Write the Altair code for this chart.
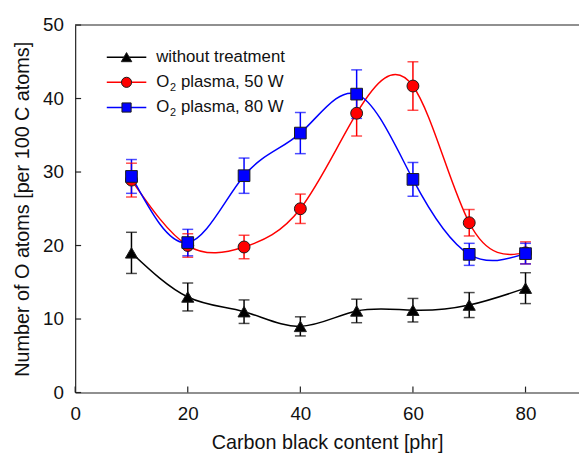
import altair as alt
import pandas as pd

# ---- data ----
carbon = [10, 20, 30, 40, 50, 60, 70, 80]
series_names = ["without treatment", "O₂ plasma, 50 W", "O₂ plasma, 80 W"]
untreated = [19.0, 13.0, 11.0, 9.0, 11.1, 11.2, 11.9, 14.2]
untreated_err = [2.8, 1.9, 1.6, 1.3, 1.6, 1.6, 1.7, 2.1]
plasma50 = [28.9, 20.0, 19.8, 25.0, 38.0, 41.7, 23.1, 19.0]
plasma50_err = [2.3, 1.6, 1.6, 2.0, 3.1, 3.3, 1.8, 1.5]
plasma80 = [29.4, 20.4, 29.5, 35.3, 40.6, 29.0, 18.8, 18.9]
plasma80_err = [2.3, 1.8, 2.4, 2.8, 3.3, 2.3, 1.5, 1.4]
x_ticks = [0, 20, 40, 60, 80]
y_ticks = [0, 10, 20, 30, 40, 50]
# legend text pieces (O + subscript 2 + rest)
legend_main = ["without treatment", "O", "O"]
legend_sub = ["", "2", "2"]
legend_rest = ["", "plasma, 50 W", "plasma, 80 W"]

colors = ["#000000", "#ff0000", "#0000ff"]
shapes = ["triangle-up", "circle", "square"]
sizes = [150, 140, 115]

W, H = 510, 372
FONT = "Liberation Sans"
AX = "#222222"
TXT = "#111111"

rows = []
for name, vals, errs in zip(series_names,
                            [untreated, plasma50, plasma80],
                            [untreated_err, plasma50_err, plasma80_err]):
    for c, v, e in zip(carbon, vals, errs):
        rows.append(dict(carbon=c, value=v, lo=v - e, hi=v + e, series=name))
df = pd.DataFrame(rows)

xs = alt.Scale(domain=[0, 89.5], nice=False, zero=False)
ys = alt.Scale(domain=[0, 50], nice=False)

x_axis = alt.Axis(values=x_ticks, title="Carbon black content [phr]", ticks=False, tickSize=0,
                  grid=False, domainColor=AX, domainWidth=1.2, labelFont=FONT, labelFontSize=19,
                  labelColor=TXT, labelPadding=12, labelFlush=False, titleFont=FONT,
                  titleFontSize=20, titleFontWeight="normal", titleColor=TXT, titlePadding=10)
y_axis = alt.Axis(values=y_ticks, title="Number of O atoms [per 100 C atoms]", ticks=False, tickSize=0,
                  grid=False, domainColor=AX, domainWidth=1.2, labelFont=FONT, labelFontSize=19,
                  labelColor=TXT, labelPadding=12, labelFlush=False, titleFont=FONT,
                  titleFontSize=20, titleFontWeight="normal", titleColor=TXT, titlePadding=10)

color = alt.Color("series:N", scale=alt.Scale(domain=series_names, range=colors), legend=None)

base = alt.Chart(df)
X = alt.X("carbon:Q", scale=xs, axis=x_axis)

lines = base.mark_line(interpolate="natural", strokeWidth=1.5).encode(
    x=X, y=alt.Y("value:Q", scale=ys, axis=y_axis), color=color, detail="series:N")

err = base.mark_rule(strokeWidth=1.5).encode(
    x=X, y=alt.Y("lo:Q", scale=ys, axis=y_axis), y2="hi:Q", color=color)
cap_lo = base.mark_tick(orient="horizontal", size=11, thickness=1.5).encode(
    x=X, y=alt.Y("lo:Q", scale=ys, axis=y_axis), color=color)
cap_hi = base.mark_tick(orient="horizontal", size=11, thickness=1.5).encode(
    x=X, y=alt.Y("hi:Q", scale=ys, axis=y_axis), color=color)

points = base.mark_point(filled=True, opacity=1, stroke="#1a1a1a", strokeWidth=1).encode(
    x=X, y=alt.Y("value:Q", scale=ys, axis=y_axis),
    fill=alt.Fill("series:N", scale=alt.Scale(domain=series_names, range=colors), legend=None),
    shape=alt.Shape("series:N", scale=alt.Scale(domain=series_names, range=shapes), legend=None),
    size=alt.Size("series:N", scale=alt.Scale(domain=series_names, range=sizes), legend=None),
)

# inward ticks
xt = alt.Chart(pd.DataFrame({"t": x_ticks})).mark_rule(color=AX, strokeWidth=1.2).encode(
    x=alt.X("t:Q", scale=xs, axis=x_axis), y=alt.value(H), y2=alt.value(H - 6))
yt = alt.Chart(pd.DataFrame({"t": y_ticks})).mark_rule(color=AX, strokeWidth=1.2).encode(
    y=alt.Y("t:Q", scale=ys, axis=y_axis), x=alt.value(0), x2=alt.value(6))
top = alt.Chart(pd.DataFrame({"a": [0]})).mark_rule(color=AX, strokeWidth=1.2).encode(
    x=alt.value(0), x2=alt.value(W), y=alt.value(0))

# legend (inside plot, top-left)
leg_layers = []
leg_y = [32.5, 58, 83.5]
for i, name in enumerate(series_names):
    d = pd.DataFrame({"main": [legend_main[i]], "sub": [legend_sub[i]], "rest": [legend_rest[i]]})
    c = alt.Chart(d)
    leg_layers.append(c.mark_rule(color=colors[i], strokeWidth=1.5).encode(
        x=alt.value(32), x2=alt.value(72), y=alt.value(leg_y[i])))
    leg_layers.append(c.mark_point(filled=True, opacity=1, fill=colors[i], stroke="#1a1a1a",
                                   strokeWidth=1, shape=shapes[i], size=sizes[i] * 0.75).encode(
        x=alt.value(52), y=alt.value(leg_y[i])))
    leg_layers.append(c.mark_text(align="left", baseline="middle", font=FONT, fontSize=17,
                                  color=TXT).encode(
        x=alt.value(82), y=alt.value(leg_y[i]), text="main:N"))
    if legend_sub[i]:
        leg_layers.append(c.mark_text(align="left", baseline="middle", font=FONT, fontSize=11,
                                      color=TXT).encode(
            x=alt.value(96), y=alt.value(leg_y[i] + 6), text="sub:N"))
        leg_layers.append(c.mark_text(align="left", baseline="middle", font=FONT, fontSize=17,
                                      color=TXT).encode(
            x=alt.value(107), y=alt.value(leg_y[i]), text="rest:N"))

chart = alt.layer(lines, err, cap_lo, cap_hi, points, xt, yt, top, *leg_layers).properties(
    width=W, height=H, autosize="none",
    padding={"left": 68, "top": 14.5, "right": 0, "bottom": 60},
).configure_view(stroke="transparent")

chart.save("out.html", embed_options={"renderer": "svg", "actions": False})
